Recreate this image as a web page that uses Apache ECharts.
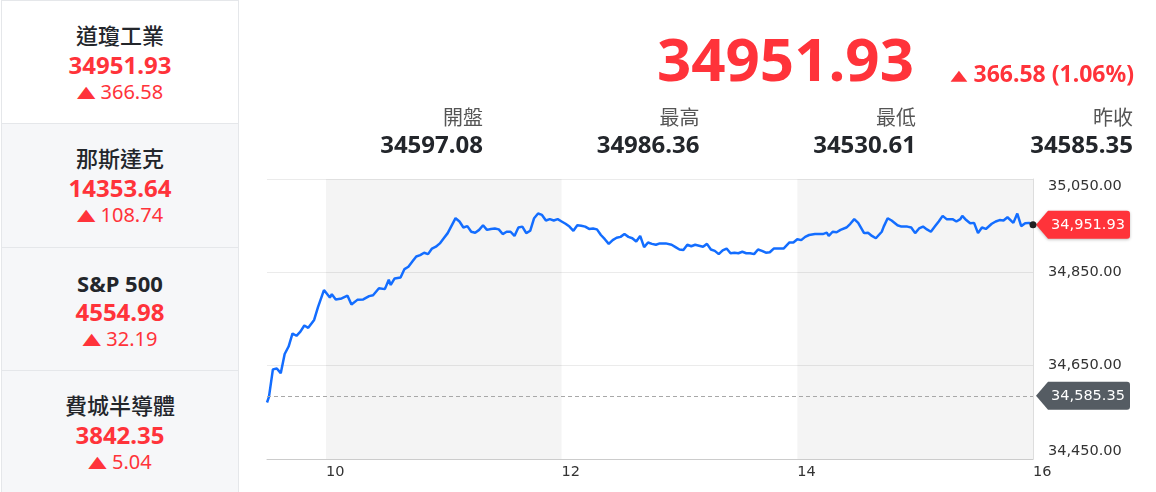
<!DOCTYPE html>
<html>
<head>
<meta charset="utf-8">
<script src="https://cdn.jsdelivr.net/npm/echarts@6/dist/echarts.min.js"></script>
<style>
html,body{margin:0;padding:0;width:1156px;height:492px;overflow:hidden;background:#fff;
  font-family:"Noto Sans","Noto Sans CJK TC",sans-serif;}
#chart{position:absolute;left:0;top:0;width:1156px;height:492px;}
#side{position:absolute;left:1px;top:0;width:238px;height:492px;box-sizing:border-box;
  border-left:1px solid #e5e7ea;border-right:1px solid #e5e7ea;border-top:1px solid #e5e7ea;}
.card{position:absolute;left:0;width:236px;box-sizing:border-box;border-bottom:1px solid #e5e7ea;background:#f6f7f9;}
.card.on{background:#fff;}
.t{position:absolute;left:0;width:236px;text-align:center;white-space:nowrap;}
.abs{position:absolute;white-space:nowrap;}
.tri{display:inline-block;font-family:"DejaVu Sans";font-weight:400;transform-origin:50% 50%;}
.red{color:#ff333a;}
</style>
</head>
<body>
<div id="chart"></div>
<div id="side"></div>
<div id="head"></div>
<script>
// ---- data ----
const indexNames   = ['道瓊工業', '那斯達克', 'S&P 500', '費城半導體'];
const indexValues  = ['34951.93', '14353.64', '4554.98', '3842.35'];
const indexChanges = ['366.58', '108.74', '32.19', '5.04'];

const lastPrice  = 34951.93;
const change     = '366.58';
const changePct  = '1.06%';
const statLabels = ['開盤', '最高', '最低', '昨收'];
const statValues = ['34597.08', '34986.36', '34530.61', '34585.35'];
const prevClose  = 34585.35;

const hourLabels  = ['10', '12', '14', '16'];
const shadedHours = [[10, 12], [14, 16]];
const yTicks      = [34450, 34650, 34850, 35050];

const times = ['09:30','09:31','09:33','09:35','09:37','09:39','09:41','09:43','09:45','09:47','09:49','09:51','09:54','09:56','09:59',
'10:02','10:03','10:05','10:08','10:11','10:13','10:16','10:19','10:22','10:24','10:27','10:30','10:32','10:33','10:35','10:38','10:40',
'10:42','10:44','10:46','10:48','10:50','10:52','10:54','10:56','10:58','11:00','11:02','11:03','11:06','11:08','11:10','11:12','11:14',
'11:16','11:18','11:20','11:22','11:24','11:26','11:28','11:30','11:32','11:34','11:36','11:38','11:40','11:42','11:44','11:46','11:48',
'11:50','11:52','11:54','11:56','11:58','12:00','12:02','12:04','12:06','12:08','12:10','12:12','12:14','12:16','12:18','12:20','12:22',
'12:24','12:26','12:28','12:30','12:32','12:34','12:36','12:38','12:40','12:42','12:44','12:46','12:48','12:50','12:53','12:56','12:58',
'13:00','13:02','13:04','13:06','13:08','13:10','13:12','13:14','13:16','13:18','13:20','13:22','13:24','13:26','13:28','13:30','13:32',
'13:34','13:36','13:38','13:40','13:42','13:44','13:46','13:48','13:50','13:51','13:53','13:56','13:58','14:00','14:02','14:04','14:06',
'14:09','14:11','14:13','14:15','14:16','14:18','14:20','14:22','14:25','14:27','14:29','14:31','14:34','14:36','14:38','14:40','14:43',
'14:44','14:46','14:48','14:51','14:53','14:56','14:58','15:00','15:02','15:04','15:06','15:08','15:10','15:12','15:14','15:16','15:19',
'15:21','15:23','15:24','15:26','15:28','15:30','15:32','15:34','15:36','15:39','15:41','15:43','15:45','15:47','15:50','15:52','15:54',
'15:56','15:58','16:00'];
const values = [34571,34583,34642,34644,34634,34675,34691,34719,34714,34723,34736,34731,34748,34776,34812,
34796,34803,34792,34794,34800,34781,34791,34792,34799,34801,34816,34814,34834,34823,34837,34839,34857,
34862,34873,34884,34887,34892,34889,34901,34905,34912,34923,34934,34936,34966,34959,34946,34949,34937,
34935,34941,34951,34941,34943,34944,34942,34932,34937,34937,34928,34946,34948,34934,34939,34966,34976,
34973,34961,34964,34961,34964,34959,34954,34948,34939,34951,34950,34948,34943,34944,34942,34930,34921,
34911,34919,34924,34926,34932,34926,34923,34916,34928,34904,34914,34911,34909,34912,34912,34909,34904,
34899,34898,34909,34906,34909,34907,34905,34911,34899,34896,34889,34897,34901,34891,34892,34891,34894,
34891,34891,34889,34899,34896,34892,34893,34901,34901,34899,34901,34914,34914,34921,34919,34926,34930,
34932,34932,34932,34935,34928,34937,34936,34941,34946,34954,34964,34956,34934,34935,34928,34923,34937,
34948,34966,34961,34951,34948,34948,34946,34934,34944,34948,34942,34937,34948,34959,34971,34964,34964,
34959,34964,34971,34962,34955,34956,34934,34946,34943,34954,34959,34962,34961,34968,34956,34976,34949,
34955,34956,34951.93];

// ---- helpers ----
const toMin = t => { const p = t.split(':'); return (+p[0]) * 60 + (+p[1]); };
const fmt = v => Number(v).toLocaleString('en-US', {minimumFractionDigits: 2, maximumFractionDigits: 2});

// ---- sidebar ----
const side = document.getElementById('side');
const cardTops = [0, 123, 247, 370, 492];
indexNames.forEach((n, i) => {
  const c = document.createElement('div');
  c.className = 'card' + (i === 0 ? ' on' : '');
  c.style.top = cardTops[i] + 'px';
  c.style.height = (cardTops[i + 1] - cardTops[i]) + 'px';
  if (i === 3) c.style.borderBottom = 'none';
  c.innerHTML =
    `<div class="t" style="top:${i===2?24:23}px;font-size:22px;line-height:22px;color:#23262b;font-weight:${i===2?700:500}">${n}</div>` +
    `<div class="t red" style="top:52px;font-size:24px;line-height:24px;font-weight:700">${indexValues[i]}</div>` +
    `<div class="t red" style="top:80px;font-size:20px;line-height:20px;"><span class="tri" style="font-size:24px;transform:translateY(1px) scale(1,0.66)">▲</span> ${indexChanges[i]}</div>`;
  side.appendChild(c);
});

// ---- header ----
const head = document.getElementById('head');
let h = `<div class="abs red" style="right:${1156-914}px;top:28px;font-size:60px;line-height:60px;font-weight:700">${lastPrice.toFixed(2)}</div>`;
h += `<div class="abs red" style="right:${1156-1134}px;top:62px;font-size:23px;line-height:23px;font-weight:700"><span class="tri" style="font-size:22px;transform:translateY(1px) scale(1,0.66)">▲</span> ${change} (${changePct})</div>`;
const edges = [483, 699.5, 916, 1133];
statLabels.forEach((l, i) => {
  h += `<div class="abs" style="right:${1156-edges[i]}px;top:107px;font-size:20px;line-height:20px;color:#555;font-family:'Noto Sans CJK TC'">${l}</div>`;
  h += `<div class="abs" style="right:${1156-edges[i]}px;top:132px;font-size:24px;line-height:24px;color:#23262b;font-weight:700">${statValues[i]}</div>`;
});
head.innerHTML = h;

// ---- chart ----
const chart = echarts.init(document.getElementById('chart'));
const hourTicks = hourLabels.map(s => (+s) * 60);
const seriesData = times.map((t, i) => [toMin(t), values[i]]);
const xMin = toMin(times[0]), xMax = toMin(times[times.length - 1]);
const tagPath = 'path://M0,14L12,0L91,0Q94,0,94,3L94,25Q94,28,91,28L12,28Z';

chart.setOption({
  animation: false,
  grid: {left: 267, right: 123, top: 179, bottom: 33, containLabel: false},
  xAxis: {
    type: 'value', min: xMin, max: xMax, interval: 30,
    axisLine: {show: true, lineStyle: {color: '#cccccc', width: 1}},
    axisTick: {show: false},
    splitLine: {show: false},
    axisLabel: {
      margin: 6, align: 'left', color: '#333', fontSize: 14.5, fontFamily: 'DejaVu Sans',
      showMinLabel: true, showMaxLabel: true, hideOverlap: false,
      formatter: v => hourTicks.indexOf(v) >= 0 ? hourLabels[hourTicks.indexOf(v)] : ''
    }
  },
  yAxis: {
    type: 'value', position: 'right', min: yTicks[0], max: yTicks[yTicks.length - 1], interval: 200,
    axisLine: {show: true, lineStyle: {color: '#dddddd'}},
    axisTick: {show: false},
    splitLine: {show: true, lineStyle: {color: '#ebebeb'}},
    axisLabel: {
      margin: 15, color: '#333', fontSize: 14.5, fontFamily: 'DejaVu Sans',
      verticalAlignMinLabel: 'bottom', verticalAlignMaxLabel: 'top',
      formatter: v => fmt(v)
    }
  },
  series: [{
    type: 'line',
    data: seriesData,
    showSymbol: false,
    symbol: 'none',
    smooth: false,
    lineStyle: {color: '#136dff', width: 2.5},
    z: 3,
    markArea: {
      silent: true,
      itemStyle: {color: 'rgba(0,0,0,0.045)'},
      data: shadedHours.map(p => [{xAxis: p[0] * 60}, {xAxis: p[1] * 60}])
    },
    markLine: {
      silent: true,
      symbol: ['none', 'none'],
      label: {show: false},
      lineStyle: {type: [4, 3], color: '#a8a8a8', width: 1},
      data: [{yAxis: prevClose}]
    },
    markPoint: {
      silent: true,
      data: [
        {coord: [xMax, lastPrice], symbol: tagPath, symbolSize: [94, 28], symbolOffset: [50, 0], symbolKeepAspect: false,
         itemStyle: {color: '#ff333a', shadowBlur: 3, shadowColor: 'rgba(0,0,0,0.25)', shadowOffsetY: 1},
         label: {show: true, position: 'inside', offset: [5, 0], formatter: fmt(lastPrice), color: '#fff', fontSize: 14.5, fontFamily: 'DejaVu Sans'}},
        {coord: [xMax, prevClose], symbol: tagPath, symbolSize: [94, 28], symbolOffset: [50, 0], symbolKeepAspect: false,
         itemStyle: {color: '#555c63'},
         label: {show: true, position: 'inside', offset: [5, 0], formatter: fmt(prevClose), color: '#fff', fontSize: 14.5, fontFamily: 'DejaVu Sans'}},
        {coord: [xMax, lastPrice], symbol: 'circle', symbolSize: 7,
         itemStyle: {color: '#222'}, label: {show: false}}
      ]
    }
  }]
});
</script>
</body>
</html>
